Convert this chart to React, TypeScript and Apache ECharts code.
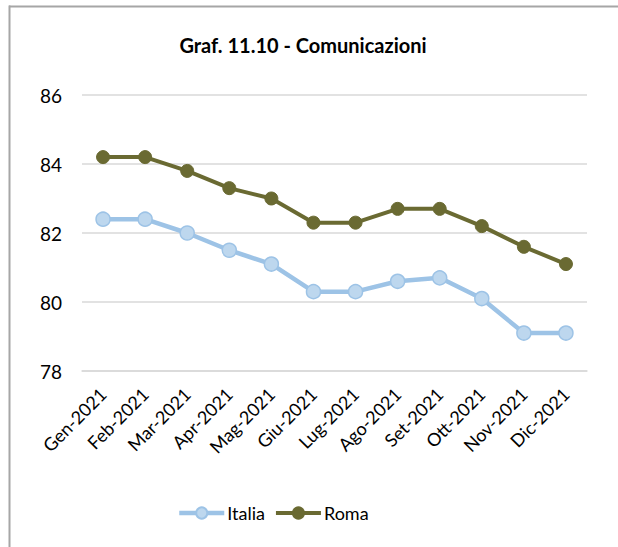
import React, { useEffect, useRef } from "react";
import * as echarts from "echarts";

const categories = ["Gen-2021", "Feb-2021", "Mar-2021", "Apr-2021", "Mag-2021", "Giu-2021", "Lug-2021", "Ago-2021", "Set-2021", "Ott-2021", "Nov-2021", "Dic-2021"];
const italia = [82.4, 82.4, 82.0, 81.5, 81.1, 80.3, 80.3, 80.6, 80.7, 80.1, 79.1, 79.1];
const roma = [84.2, 84.2, 83.8, 83.3, 83.0, 82.3, 82.3, 82.7, 82.7, 82.2, 81.6, 81.1];

const FONT = "Lato";

export default function App() {
  const ref = useRef<HTMLDivElement>(null);
  useEffect(() => {
    if (!ref.current) return;
    document.body.style.margin = "0";
    document.body.style.overflow = "hidden";
    document.documentElement.style.overflow = "hidden";
    const chart = echarts.init(ref.current, null, { renderer: "svg" });
    chart.setOption({
      animation: false,
      backgroundColor: "#ffffff",
      textStyle: { fontFamily: FONT },
      title: {
        text: "Graf. 11.10 - Comunicazioni",
        left: 298,
        textAlign: "center",
        top: 30,
        textStyle: { fontFamily: FONT, fontSize: 20, fontWeight: "bold", color: "#000" },
      },
      graphic: [
        {
          type: "rect",
          shape: { x: 600, y: 8, width: 18, height: 539 },
          style: { fill: "#ffffff" },
          z: 100,
        },
        {
          type: "rect",
          shape: { x: 9, y: 5.5, width: 609, height: 2 },
          style: { fill: "#A6A6A6" },
          z: 101,
        },
        {
          type: "rect",
          shape: { x: 8.5, y: 5.5, width: 2, height: 542 },
          style: { fill: "#A6A6A6" },
          z: 101,
        },
      ],
      legend: {
        data: [
          { name: "Italia", lineStyle: { width: 4.5 } },
          { name: "Roma", lineStyle: { width: 4 } },
        ],
        top: 504,
        left: 177,
        padding: 0,
        itemWidth: 45,
        itemHeight: 14,
        itemGap: 9,
        textStyle: { fontFamily: FONT, fontSize: 18, color: "#000", padding: [0, 0, 0, -2] },
      },
      grid: { left: 82, right: 31, top: 95, bottom: 176, containLabel: false },
      xAxis: {
        type: "category",
        data: categories,
        boundaryGap: true,
        axisLine: { lineStyle: { color: "#D9D9D9", width: 1.5 } },
        axisTick: { show: false },
        axisLabel: { rotate: 45, margin: 20, fontFamily: FONT, fontSize: 18, color: "#000", interval: 0 },
      },
      yAxis: {
        type: "value",
        min: 78,
        max: 86,
        interval: 2,
        axisLine: { show: false },
        axisTick: { show: false },
        splitLine: { lineStyle: { color: "#D9D9D9", width: 1.5 } },
        axisLabel: { margin: 20, fontFamily: FONT, fontSize: 19, color: "#000" },
      },
      series: [
        {
          name: "Italia",
          type: "line",
          data: italia,
          symbol: "circle",
          symbolSize: 14,
          lineStyle: { color: "#9DC3E6", width: 4.5 },
          itemStyle: { color: "#BDD7EE", borderColor: "#9DC3E6", borderWidth: 1.5 },
        },
        {
          name: "Roma",
          type: "line",
          data: roma,
          symbol: "circle",
          symbolSize: 13,
          lineStyle: { color: "#6A6A32", width: 4 },
          itemStyle: { color: "#6A6A32", borderColor: "#6A6A32", borderWidth: 1 },
        },
      ],
    });
    return () => chart.dispose();
  }, []);
  return <div ref={ref} style={{ position: "absolute", left: 0, top: 0, width: 618, height: 547 }} />;
}
